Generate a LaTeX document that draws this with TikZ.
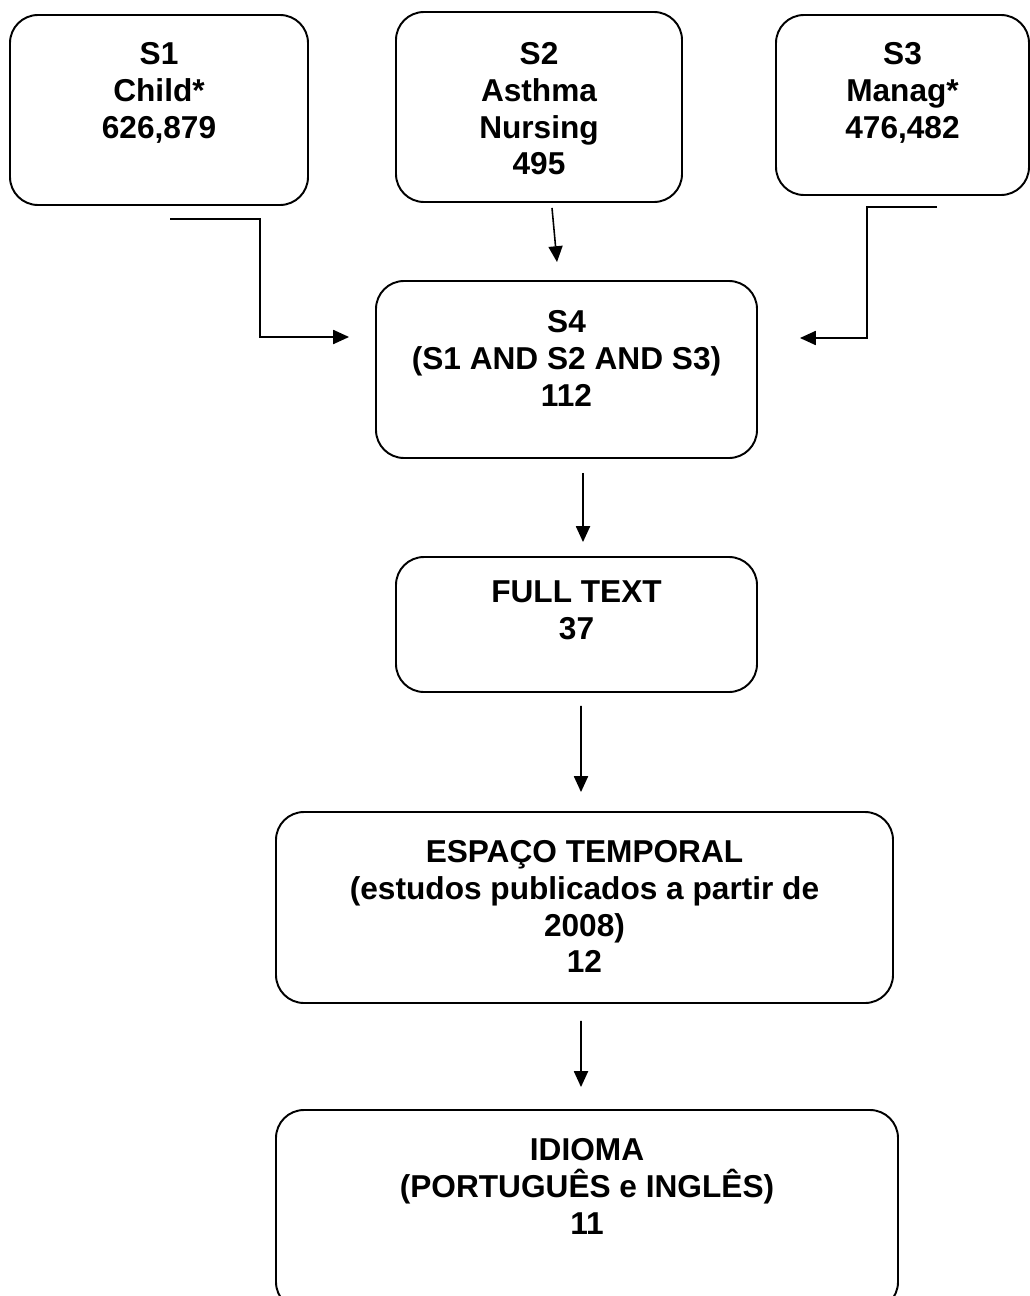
\documentclass[tikz,border=0pt]{standalone}
\usepackage{fontspec}
\setmainfont{Liberation Sans}
\usetikzlibrary{arrows.meta,positioning,calc}
\tikzset{
  blk/.style={draw,rectangle,rounded corners=0.56cm,line width=1.1pt},
  lbl/.style={font=\fontsize{18}{20.8}\selectfont\bfseries,align=center,inner sep=0pt},
  arr/.style={-{Triangle[length=9pt,width=8pt]},line width=0.9pt}
}
\begin{document}
\begin{tikzpicture}
  \useasboundingbox (0,0) rectangle (20.58,-25.92);
  % Search strings
  \node[blk, minimum width=5.96cm, minimum height=3.80cm] (s1) at (3.18,-2.20) {};
  \node[lbl, below=0.57cm of s1.north] (s1txt) {S1\\Child*\\626,879};
  \node[blk, minimum width=5.72cm, minimum height=3.80cm] (s2) at (10.78,-2.14) {};
  \node[lbl, below=0.63cm of s2.north] (s2txt) {S2\\Asthma\\Nursing\\495};
  \node[blk, minimum width=5.06cm, minimum height=3.60cm] (s3) at (18.05,-2.10) {};
  \node[lbl, below=0.57cm of s3.north] (s3txt) {S3\\Manag*\\476,482};

  % Combined search
  \node[blk, minimum width=7.62cm, minimum height=3.54cm] (s4) at (11.33,-7.39) {};
  \node[lbl, below=0.61cm of s4.north] (s4txt) {S4\\(S1 AND S2 AND S3)\\112};

  % Filters
  \node[blk, minimum width=7.22cm, minimum height=2.70cm] (full) at (11.53,-12.49) {};
  \node[lbl, below=0.49cm of full.north] (fulltxt) {FULL TEXT\\37};
  \node[blk, minimum width=12.34cm, minimum height=3.82cm] (tempo) at (11.69,-18.15) {};
  \node[lbl, below=0.59cm of tempo.north] (tempotxt) {ESPAÇO TEMPORAL\\(estudos publicados a partir de\\2008)\\12};
  \node[blk, minimum width=12.44cm, minimum height=4.00cm] (idioma) at (11.74,-24.20) {};
  \node[lbl, below=0.59cm of idioma.north] (idiomatxt) {IDIOMA\\(PORTUGUÊS e INGLÊS)\\11};

  % Arrow ends
  \coordinate (s1out) at ($(s1.south)+(0.22,-0.26)$);
  \coordinate (s4inL) at ($(s4.west)+(-0.52,0.65)$);
  \coordinate (s2out) at ($(s2.south)+(0.26,-0.10)$);
  \coordinate (s4inT) at ($(s4.north)+(-0.19,0.36)$);
  \coordinate (s3out) at ($(s3.south)+(0.69,-0.22)$);
  \coordinate (s4inR) at ($(s4.east)+(0.84,0.63)$);
  \coordinate (s4out) at ($(s4.south)+(0.33,-0.28)$);
  \coordinate (fullin) at ($(full.north)+(0.13,0.28)$);
  \coordinate (fullout) at ($(full.south)+(0.09,-0.26)$);
  \coordinate (tempoin) at ($(tempo.north)+(-0.07,0.38)$);
  \coordinate (tempoout) at ($(tempo.south)+(-0.07,-0.34)$);
  \coordinate (idiomain) at ($(idioma.north)+(-0.12,0.44)$);

  % Connectors
  \draw[arr] (s1out) -- ++(1.8,0) |- (s4inL);
  \draw[arr] (s2out) -- (s4inT);
  \draw[arr] (s3out) -- ++(-1.4,0) |- (s4inR);
  \draw[arr] (s4out) -- (fullin);
  \draw[arr] (fullout) -- (tempoin);
  \draw[arr] (tempoout) -- (idiomain);
\end{tikzpicture}
\end{document}
